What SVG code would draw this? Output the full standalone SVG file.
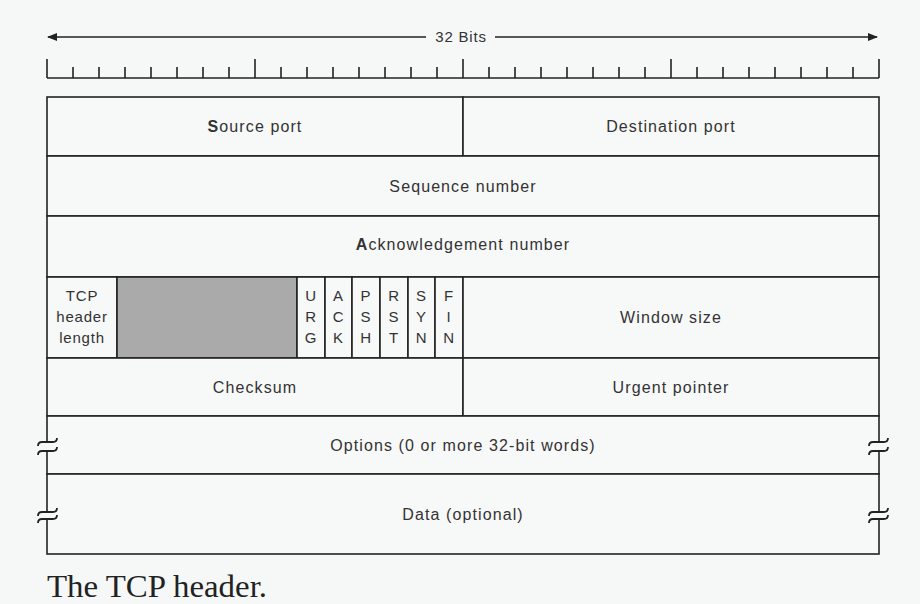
<svg xmlns="http://www.w3.org/2000/svg" width="920" height="604" viewBox="0 0 920 604">
<defs>
<style>
.ln{stroke:#222;stroke-width:1.6;fill:none}
.t{font-family:"Liberation Sans",Arial,sans-serif;font-size:16px;fill:#333;text-anchor:middle;letter-spacing:1.1px}
.f{font-family:"Liberation Sans",Arial,sans-serif;font-size:15px;fill:#333;text-anchor:middle;letter-spacing:0.8px}
.cell{fill:#f7f8f8;stroke:#222;stroke-width:1.6}
.brk{stroke:#222;stroke-width:1.8;fill:none}
</style>
<marker id="ah" markerWidth="10" markerHeight="8" refX="9" refY="4" orient="auto-start-reverse" markerUnits="userSpaceOnUse">
<path d="M0,0 L10,4 L0,8 Z" fill="#222"/>
</marker>
</defs>
<rect width="920" height="604" fill="#f6f8f8"/>

<g id="bits-arrow">
<line class="ln" x1="48" y1="37" x2="426" y2="37" marker-start="url(#ah)"/>
<line class="ln" x1="495" y1="37" x2="877" y2="37" marker-end="url(#ah)"/>
<text class="f" x="461" y="42">32 Bits</text>
</g>

<g id="ruler">
<path class="ln" d="M47,78 H879"/>
<path class="ln" d="M47,59V78 M255,59V78 M463,59V78 M671,59V78 M879,59V78"/>
<path class="ln" d="M73,67V78 M99,67V78 M125,67V78 M151,67V78 M177,67V78 M203,67V78 M229,67V78 M281,67V78 M307,67V78 M333,67V78 M359,67V78 M385,67V78 M411,67V78 M437,67V78 M489,67V78 M515,67V78 M541,67V78 M567,67V78 M593,67V78 M619,67V78 M645,67V78 M697,67V78 M723,67V78 M749,67V78 M775,67V78 M801,67V78 M827,67V78 M853,67V78"/>
</g>

<g id="source-port"><rect class="cell" x="47" y="97" width="416" height="59"/><text class="t" x="255" y="132"><tspan font-weight="bold">S</tspan>ource port</text></g>
<g id="destination-port"><rect class="cell" x="463" y="97" width="416" height="59"/><text class="t" x="671" y="132">Destination port</text></g>
<g id="sequence-number"><rect class="cell" x="47" y="156" width="832" height="60"/><text class="t" x="463" y="192">Sequence number</text></g>
<g id="ack-number"><rect class="cell" x="47" y="216" width="832" height="61"/><text class="t" x="463" y="250"><tspan font-weight="bold">A</tspan>cknowledgement number</text></g>

<g id="tcp-header-length"><rect class="cell" x="47" y="277" width="70" height="81"/>
<text class="f" x="82" y="301">TCP</text><text class="f" x="82" y="322">header</text><text class="f" x="82" y="343">length</text></g>
<g id="reserved"><rect x="117" y="277" width="180" height="81" fill="#aaaaaa" stroke="#222" stroke-width="1.6"/></g>
<g id="flag-urg"><rect class="cell" x="297" y="277" width="28" height="81"/><text class="f" x="311" y="301">U</text><text class="f" x="311" y="322">R</text><text class="f" x="311" y="343">G</text></g>
<g id="flag-ack"><rect class="cell" x="325" y="277" width="27" height="81"/><text class="f" x="338.5" y="301">A</text><text class="f" x="338.5" y="322">C</text><text class="f" x="338.5" y="343">K</text></g>
<g id="flag-psh"><rect class="cell" x="352" y="277" width="28" height="81"/><text class="f" x="366" y="301">P</text><text class="f" x="366" y="322">S</text><text class="f" x="366" y="343">H</text></g>
<g id="flag-rst"><rect class="cell" x="380" y="277" width="28" height="81"/><text class="f" x="394" y="301">R</text><text class="f" x="394" y="322">S</text><text class="f" x="394" y="343">T</text></g>
<g id="flag-syn"><rect class="cell" x="408" y="277" width="27" height="81"/><text class="f" x="421.5" y="301">S</text><text class="f" x="421.5" y="322">Y</text><text class="f" x="421.5" y="343">N</text></g>
<g id="flag-fin"><rect class="cell" x="435" y="277" width="28" height="81"/><text class="f" x="449" y="301">F</text><text class="f" x="449" y="322">I</text><text class="f" x="449" y="343">N</text></g>
<g id="window-size"><rect class="cell" x="463" y="277" width="416" height="81"/><text class="t" x="671" y="323">Window size</text></g>

<g id="checksum"><rect class="cell" x="47" y="358" width="416" height="58"/><text class="t" x="255" y="393">Checksum</text></g>
<g id="urgent-pointer"><rect class="cell" x="463" y="358" width="416" height="58"/><text class="t" x="671" y="393">Urgent pointer</text></g>
<g id="options"><rect class="cell" x="47" y="416" width="832" height="58"/><text class="t" x="463" y="451">Options (0 or more 32-bit words)</text></g>
<g id="data"><rect class="cell" x="47" y="474" width="832" height="80"/><text class="t" x="463" y="520">Data (optional)</text></g>

<g id="breaks">
<rect x="43" y="443" width="8" height="8" fill="#f6f8f8"/>
<path class="brk" d="M38,446 Q38,442 42,442 H53 Q57,442 57,438 M38,455 Q38,451 42,451 H53 Q57,451 57,447"/>
<rect x="43" y="513" width="8" height="6" fill="#f6f8f8"/>
<path class="brk" d="M38,516 Q38,512 42,512 H53 Q57,512 57,508 M38,523 Q38,519 42,519 H53 Q57,519 57,515"/>
<rect x="875" y="443" width="8" height="8" fill="#f6f8f8"/>
<path class="brk" d="M869,446 Q869,442 873,442 H884 Q888,442 888,438 M869,455 Q869,451 873,451 H884 Q888,451 888,447"/>
<rect x="875" y="513" width="8" height="6" fill="#f6f8f8"/>
<path class="brk" d="M869,516 Q869,512 873,512 H884 Q888,512 888,508 M869,523 Q869,519 873,519 H884 Q888,519 888,515"/>
</g>

<text x="47" y="597" font-family="'Liberation Serif','Times New Roman',serif" font-size="31" fill="#222" textLength="220" lengthAdjust="spacingAndGlyphs">The TCP header.</text>
</svg>
